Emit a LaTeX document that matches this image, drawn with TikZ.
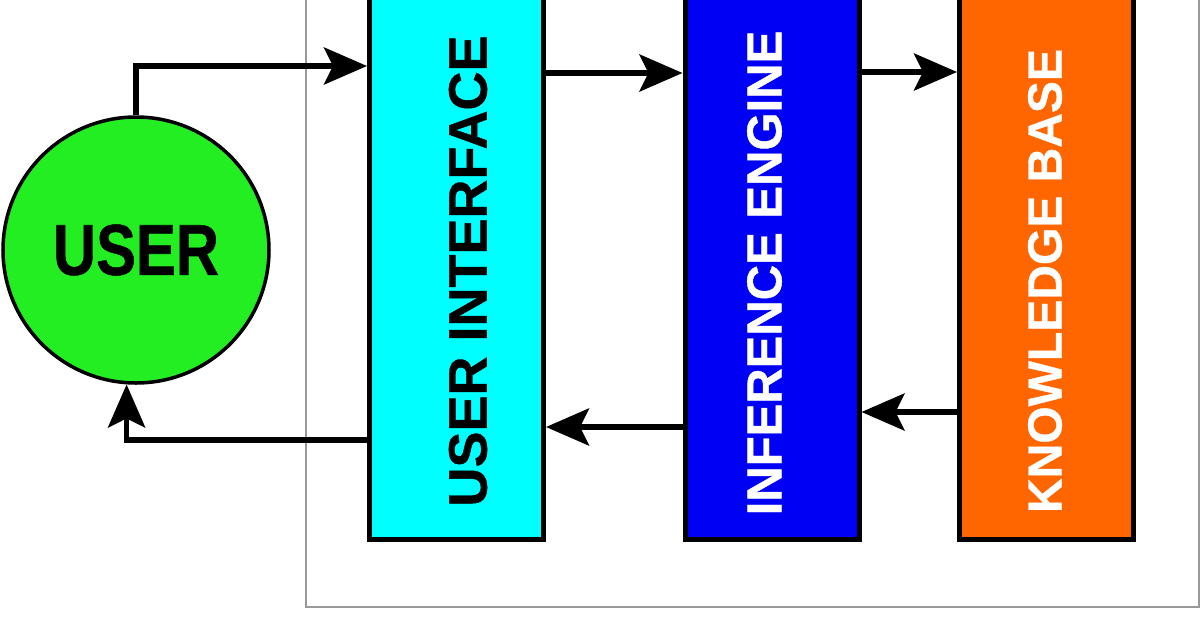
\documentclass[tikz,border=0pt]{standalone}
\usepackage{fontspec}
\setmainfont{Liberation Sans}[BoldFeatures={FakeBold=0.8}]
\usetikzlibrary{arrows.meta,positioning,calc}
\definecolor{userGreen}{RGB}{34,238,34}
\definecolor{uiCyan}{RGB}{0,255,255}
\definecolor{ieBlue}{RGB}{0,0,245}
\definecolor{kbOrange}{RGB}{255,102,0}

\begin{document}
\begin{tikzpicture}[x=1pt,y=-1pt,>={Stealth[length=43pt,width=37pt,inset=9pt]},
 box/.style={draw=black,line width=5pt,fill=#1,minimum width=174pt,minimum height=550pt,inner sep=0},
 lbl/.style={rotate=90,font=\bfseries\fontsize{#1}{#1}\selectfont,inner sep=0},
 arr/.style={->,draw=black,line width=5.5pt}]
\useasboundingbox (0,0) rectangle (1200,630);
\clip (0,0) rectangle (1200,630);
% outer frame
\draw[black!40,line width=1.3pt] (306,-10) rectangle (1199,607);
\node[circle,draw=black,line width=3.5pt,fill=userGreen,minimum size=266pt,inner sep=0,
 font=\bfseries\fontsize{72}{72}\selectfont] (user) at (136,250) {\scalebox{0.83}[1]{USER}};
\node[box=uiCyan] (ui) at (456.5,264) {};
\node[box=ieBlue] (ie) at (772,264) {};
\node[box=kbOrange] (kb) at (1046.5,264) {};
\node[lbl=54] (uit) at (468,271) {USER INTERFACE};
\node[lbl=49,text=white] (iet) at (764.5,273) {INFERENCE ENGINE};
\node[lbl=48,text=white] (kbt) at (1045,281) {KNOWLEDGE BASE};
% rows of the connectors
\coordinate (r1) at (0,66);
\coordinate (r2) at (0,73);
\coordinate (r3) at (0,72);
\coordinate (r4) at (0,412);
\coordinate (r5) at (0,427);
\coordinate (r6) at (0,440);
\draw[arr] (user.north) |- (ui.west |- r1);
\draw[arr] (ui.east |- r2) -- (ie.west |- r2);
\draw[arr] (ie.east |- r3) -- (kb.west |- r3);
\draw[arr] (kb.west |- r4) -- (ie.east |- r4);
\draw[arr] (ie.west |- r5) -- (ui.east |- r5);
\draw[arr] (ui.west |- r6) -| (user.266);
\end{tikzpicture}
\end{document}
